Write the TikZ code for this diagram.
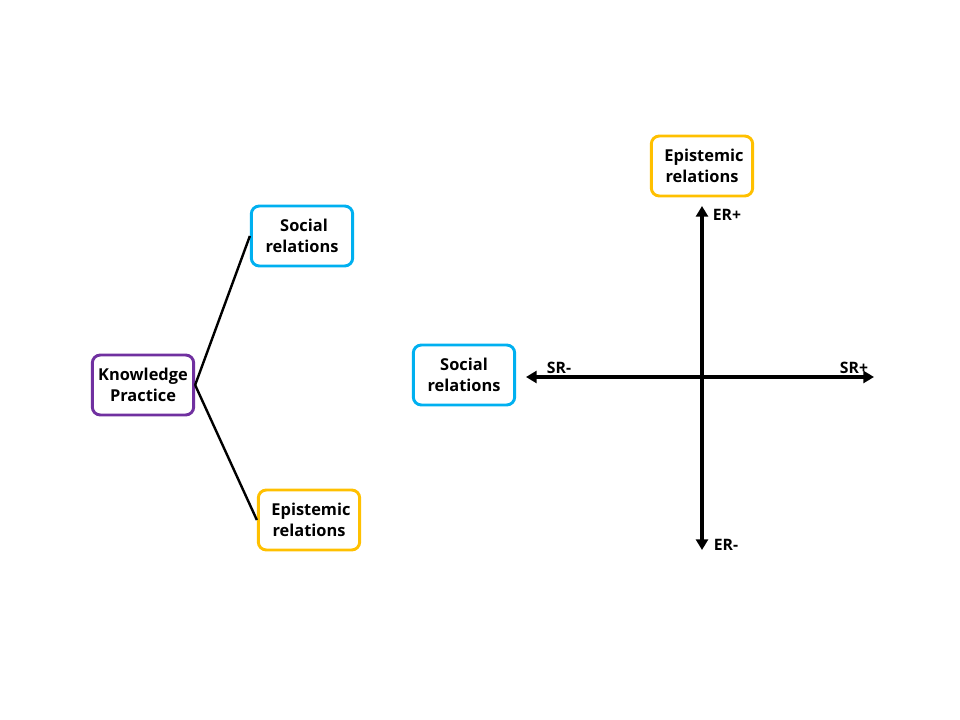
\documentclass[tikz,border=0pt]{standalone}
\usepackage{fontspec}
\setmainfont{Open Sans}
\usetikzlibrary{arrows.meta,positioning}
\definecolor{kppurple}{HTML}{7030A0}
\definecolor{srblue}{HTML}{00B0F0}
\definecolor{eryellow}{HTML}{FFC000}

\begin{document}
\begin{tikzpicture}[
  x=0.75pt, y=-0.75pt,
  relbox/.style={draw, line width=2.2pt, rounded corners=6pt, align=center, minimum width=76pt, minimum height=45pt, font=\fontsize{12.3}{15.5}\selectfont\bfseries, inner sep=1pt},
  link/.style={line width=1.8pt},
  axis/.style={line width=3pt, -{Triangle[length=8pt,width=9pt]}},
  tag/.style={font=\fontsize{11.8}{14}\selectfont\bfseries, inner sep=1pt}
]
\useasboundingbox (0,0) rectangle (960,720);
% left: knowledge practice split into two relations
\node[relbox, draw=kppurple] (kp) at (143,385) {Knowledge\\Practice};
\node[relbox, draw=srblue] (social) at (302,236) {\hspace*{3pt}Social\\relations};
\node[relbox, draw=eryellow] (epist) at (309,520) {\hspace*{3pt}Epistemic\\relations};
\draw[link] (kp.east) -- (social.west);
\draw[link] (kp.east) -- (epist.west);
% right: the two axes
\coordinate (origin) at (702,377);
\coordinate (srminus) at (526,377);
\coordinate (srplus) at (874,377);
\coordinate (erplus) at (702,206);
\coordinate (erminus) at (702,550);
\draw[axis] (origin) -- (srminus);
\draw[axis] (origin) -- (srplus);
\draw[axis] (origin) -- (erplus);
\draw[axis] (origin) -- (erminus);
\node[relbox, draw=srblue] (socialR) at (464,375) {Social\\relations};
\node[relbox, draw=eryellow] (epistR) at (702,166) {\hspace*{3pt}Epistemic\\relations};
\node[tag] (srm) at (559,368) {SR-};
\node[tag] (srp) at (854,368) {SR+};
\node[tag] (erp) at (727,215) {ER+};
\node[tag] (erm) at (726,545) {ER-};
\end{tikzpicture}
\end{document}
